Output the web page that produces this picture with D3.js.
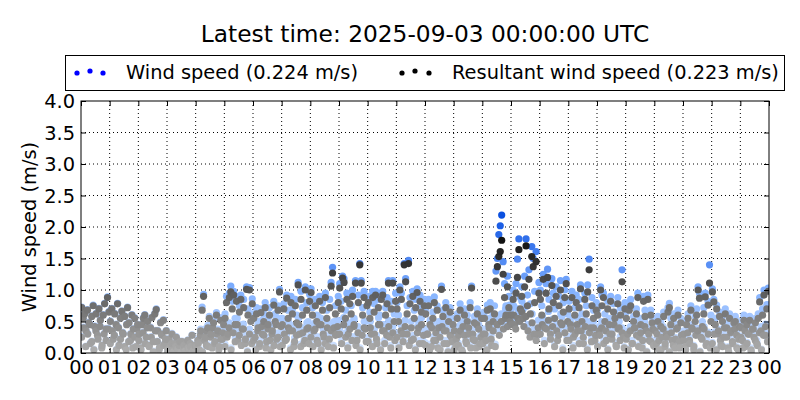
<!DOCTYPE html>
<html>
<head>
<meta charset="utf-8">
<script src="https://cdn.jsdelivr.net/npm/d3@7"></script>
<style>
  html, body { margin: 0; padding: 0; background: #fff; }
  svg { display: block; font-family: "DejaVu Sans", sans-serif; }
</style>
</head>
<body>
<svg id="chart" width="800" height="400"></svg>
<script>
// ---- data ----
const titleText = "Latest time: 2025-09-03 00:00:00 UTC";
const seriesNames = ["Wind speed (0.224 m/s)", "Resultant wind speed (0.223 m/s)"];
const xTickLabels = ["00","01","02","03","04","05","06","07","08","09","10","11","12","13","14","15","16","17","18","19","20","21","22","23","00"];
const yTicks = [0.0,0.5,1.0,1.5,2.0,2.5,3.0,3.5,4.0];

// resultant wind speed, 20 samples per hour (m/s)
const resultant = [
 [0.72,0.55,0.62,0.35,0.68,0.48,0.15,0.58,0.75,0.42,0.62,0.28,0.70,0.52,0.08,0.60,0.78,0.38,0.88,0.65],
 [0.50,0.70,0.22,0.62,0.45,0.78,0.12,0.55,0.66,0.30,0.58,0.05,0.72,0.48,0.20,0.60,0.38,0.55,0.10,0.45],
 [0.30,0.08,0.45,0.55,0.60,0.25,0.50,0.12,0.40,0.56,0.18,0.62,0.69,0.35,0.05,0.48,0.28,0.52,0.15,0.35],
 [0.05,0.22,0.10,0.30,0.02,0.15,0.25,0.06,0.12,0.00,0.18,0.08,0.03,0.14,0.20,0.05,0.10,0.28,0.04,0.12],
 [0.10,0.20,0.05,0.35,0.68,0.90,0.25,0.12,0.40,0.55,0.30,0.08,0.48,0.18,0.60,0.35,0.10,0.52,0.22,0.45],
 [0.55,0.80,0.30,0.88,0.97,0.70,0.92,0.45,0.82,0.20,0.65,0.85,0.38,0.72,0.15,1.01,0.60,1.00,0.50,0.78],
 [0.55,0.25,0.62,0.40,0.10,0.64,0.30,0.50,0.72,0.18,0.45,0.60,0.05,0.35,0.76,0.50,0.22,0.68,0.97,0.42],
 [0.45,0.70,0.20,0.87,0.55,0.35,0.80,0.62,0.10,0.75,0.48,1.08,0.30,0.85,0.60,0.15,1.00,0.68,0.40,0.82],
 [0.96,0.60,0.35,0.75,0.50,0.15,0.82,0.45,0.68,0.25,0.88,0.55,0.10,0.72,1.06,1.27,0.40,0.62,0.30,0.80],
 [1.03,0.70,1.19,1.12,0.55,0.85,0.30,0.78,0.62,0.90,0.45,1.11,0.20,0.80,1.40,1.11,0.60,0.88,0.38,0.75],
 [0.80,0.55,0.30,0.88,0.65,0.92,0.15,0.72,0.45,0.85,0.92,0.35,0.60,0.78,1.11,0.25,0.70,1.11,0.50,0.82],
 [0.70,0.50,1.00,0.85,0.30,1.40,1.13,0.62,1.42,0.78,0.20,0.90,0.55,0.72,0.96,0.40,0.82,0.65,0.15,0.75],
 [0.62,0.30,0.75,0.45,0.10,0.55,0.80,0.20,0.68,0.40,0.05,1.01,0.58,0.35,0.72,0.15,0.50,0.65,0.25,0.45],
 [0.35,0.10,0.55,0.28,0.68,0.05,0.42,0.60,0.18,0.50,0.30,0.72,1.03,0.22,0.48,0.08,0.62,0.38,0.15,0.55],
 [0.30,0.55,0.20,0.68,0.45,0.70,0.12,0.50,0.62,1.14,1.37,1.53,1.61,1.79,1.25,0.88,0.60,1.05,0.72,0.50],
 [0.60,0.85,0.45,0.95,1.20,1.64,0.70,0.90,0.55,1.05,1.70,0.75,1.17,0.62,1.53,1.37,0.80,1.45,0.30,0.95],
 [0.85,0.60,1.17,0.40,0.95,1.20,0.70,0.30,1.07,0.80,0.55,0.90,0.20,0.75,1.00,0.45,0.65,0.88,1.10,0.50],
 [0.70,0.45,0.88,0.25,0.60,0.80,0.35,0.72,1.02,0.50,0.15,0.85,0.62,0.97,1.32,0.40,0.75,0.55,0.20,0.68],
 [0.60,0.35,1.00,0.75,0.88,0.50,0.20,0.70,0.45,0.82,0.30,0.65,0.55,0.10,0.78,0.40,0.60,1.13,0.25,0.70],
 [0.55,0.30,0.68,0.75,0.15,0.50,0.40,0.62,0.88,0.25,0.45,0.08,0.82,0.58,0.35,0.85,0.20,0.60,0.48,0.12],
 [0.35,0.15,0.50,0.05,0.42,0.25,0.58,0.10,0.30,0.65,0.72,0.45,0.20,0.55,0.08,0.38,0.60,0.18,0.48,0.28],
 [0.30,0.10,0.45,0.55,0.20,0.68,0.38,0.05,0.50,0.60,1.00,0.87,0.25,0.42,0.62,0.89,0.15,0.76,1.11,0.50],
 [0.97,0.81,0.45,0.70,0.30,0.58,0.12,0.50,0.25,0.62,0.40,0.08,0.55,0.35,0.18,0.48,0.50,0.28,0.05,0.42],
 [0.40,0.20,0.52,0.10,0.45,0.30,0.52,0.05,0.38,0.25,0.48,0.15,0.55,0.81,0.35,0.60,0.92,0.28,0.70,0.98]
];

// additional resultant samples (14 per hour, mostly the calm lower band)
const resultantExtra = [
 [0.25,0.40,0.10,0.30,0.45,0.18,0.05,0.35,0.22,0.42,0.12,0.30,0.20,0.38],
 [0.15,0.35,0.28,0.05,0.40,0.22,0.32,0.10,0.45,0.18,0.30,0.08,0.25,0.38],
 [0.20,0.05,0.32,0.15,0.40,0.10,0.25,0.02,0.35,0.18,0.08,0.30,0.12,0.22],
 [0.00,0.08,0.15,0.02,0.10,0.05,0.18,0.00,0.12,0.03,0.08,0.15,0.01,0.06],
 [0.05,0.15,0.28,0.02,0.20,0.35,0.10,0.25,0.40,0.15,0.30,0.05,0.22,0.32],
 [0.10,0.25,0.40,0.05,0.32,0.18,0.45,0.28,0.12,0.38,0.22,0.02,0.30,0.15],
 [0.20,0.05,0.35,0.15,0.42,0.28,0.08,0.38,0.20,0.30,0.12,0.45,0.25,0.10],
 [0.12,0.30,0.22,0.40,0.05,0.35,0.18,0.28,0.45,0.10,0.32,0.20,0.38,0.15],
 [0.25,0.10,0.38,0.20,0.45,0.05,0.30,0.15,0.40,0.22,0.35,0.08,0.28,0.42],
 [0.30,0.15,0.45,0.25,0.08,0.38,0.20,0.42,0.12,0.32,0.05,0.28,0.40,0.18],
 [0.18,0.40,0.10,0.30,0.22,0.45,0.05,0.35,0.15,0.28,0.42,0.08,0.32,0.20],
 [0.25,0.08,0.35,0.18,0.42,0.30,0.12,0.40,0.22,0.05,0.32,0.15,0.45,0.28],
 [0.12,0.30,0.05,0.40,0.20,0.32,0.08,0.25,0.42,0.15,0.35,0.02,0.28,0.18],
 [0.05,0.22,0.12,0.35,0.02,0.28,0.15,0.40,0.08,0.30,0.20,0.45,0.10,0.25],
 [0.15,0.30,0.05,0.40,0.22,0.35,0.10,0.45,0.28,0.50,0.38,0.55,0.42,0.60],
 [0.45,0.60,0.38,0.55,0.50,0.65,0.42,0.58,0.35,0.25,0.48,0.30,0.20,0.40],
 [0.30,0.45,0.15,0.38,0.52,0.22,0.42,0.10,0.35,0.28,0.48,0.05,0.32,0.20],
 [0.20,0.38,0.08,0.30,0.45,0.15,0.35,0.25,0.42,0.05,0.32,0.18,0.40,0.28],
 [0.10,0.28,0.40,0.15,0.35,0.05,0.30,0.22,0.45,0.12,0.38,0.20,0.32,0.08],
 [0.22,0.05,0.35,0.15,0.40,0.28,0.10,0.32,0.20,0.42,0.02,0.30,0.18,0.38],
 [0.10,0.30,0.20,0.05,0.38,0.15,0.25,0.02,0.32,0.12,0.22,0.40,0.08,0.28],
 [0.20,0.05,0.32,0.15,0.40,0.10,0.28,0.35,0.02,0.22,0.38,0.12,0.30,0.08],
 [0.15,0.30,0.05,0.35,0.20,0.10,0.40,0.25,0.02,0.32,0.15,0.38,0.08,0.22],
 [0.25,0.08,0.35,0.15,0.30,0.02,0.38,0.20,0.12,0.32,0.05,0.28,0.42,0.18]
];

// wind speed, 20 samples per hour (m/s)
const windSpeed = [
 [0.73,0.56,0.63,0.36,0.69,0.49,0.16,0.59,0.76,0.43,0.63,0.29,0.71,0.53,0.09,0.61,0.79,0.39,0.89,0.66],
 [0.51,0.71,0.23,0.63,0.46,0.79,0.13,0.56,0.67,0.31,0.59,0.06,0.73,0.49,0.21,0.61,0.39,0.56,0.11,0.46],
 [0.31,0.09,0.46,0.56,0.61,0.26,0.51,0.13,0.41,0.57,0.19,0.63,0.70,0.36,0.06,0.49,0.29,0.53,0.16,0.36],
 [0.06,0.23,0.11,0.31,0.03,0.16,0.26,0.07,0.13,0.01,0.19,0.09,0.04,0.15,0.21,0.06,0.11,0.29,0.05,0.13],
 [0.12,0.22,0.07,0.38,0.73,0.93,0.28,0.14,0.44,0.58,0.33,0.10,0.52,0.20,0.64,0.38,0.12,0.56,0.25,0.49],
 [0.62,0.90,0.35,0.95,1.06,0.82,0.98,0.55,0.90,0.28,0.75,0.92,0.45,0.85,0.20,1.05,0.70,1.04,0.62,0.86],
 [0.62,0.30,0.72,0.50,0.14,0.70,0.38,0.62,0.80,0.22,0.55,0.72,0.08,0.45,0.82,0.62,0.30,0.75,1.01,0.55],
 [0.55,0.78,0.25,0.92,0.68,0.45,0.90,0.70,0.15,0.85,0.60,1.12,0.38,0.98,0.72,0.20,1.05,0.80,0.50,0.93],
 [1.02,0.72,0.45,0.85,0.60,0.20,0.90,0.55,0.80,0.30,0.95,0.68,0.15,0.85,1.12,1.36,0.50,0.75,0.38,0.90],
 [1.10,0.82,1.22,1.18,0.68,0.95,0.40,0.90,0.75,1.00,0.55,1.15,0.28,0.92,1.42,1.15,0.72,0.98,0.50,0.88],
 [0.90,0.65,0.40,0.98,0.78,0.98,0.20,0.85,0.60,0.95,0.98,0.45,0.72,0.88,1.15,0.32,0.82,1.15,0.62,0.95],
 [0.80,0.60,1.05,0.95,0.38,1.42,1.18,0.75,1.47,0.88,0.25,0.98,0.68,0.85,1.02,0.50,0.92,0.75,0.20,0.85],
 [0.70,0.38,0.85,0.52,0.15,0.65,0.89,0.25,0.75,0.50,0.08,1.06,0.68,0.42,0.80,0.20,0.60,0.72,0.30,0.55],
 [0.42,0.15,0.62,0.35,0.78,0.08,0.50,0.70,0.22,0.60,0.38,0.80,1.06,0.28,0.58,0.12,0.70,0.45,0.20,0.62],
 [0.38,0.65,0.25,0.76,0.55,0.80,0.18,0.62,0.75,1.30,1.50,1.88,2.02,2.19,1.45,1.10,0.75,1.22,0.90,0.65],
 [0.72,1.00,0.58,1.10,1.49,1.81,0.88,1.05,0.70,1.22,1.81,0.92,1.32,0.78,1.69,1.50,0.98,1.61,0.40,1.12],
 [1.00,0.75,1.25,0.52,1.10,1.33,0.85,0.40,1.18,0.95,0.70,1.05,0.28,0.90,1.15,0.58,0.80,1.00,1.17,0.62],
 [0.82,0.55,0.98,0.30,0.72,0.92,0.42,0.85,1.08,0.62,0.20,0.95,0.75,1.08,1.49,0.50,0.88,0.68,0.25,0.80],
 [0.70,0.42,1.05,0.92,0.95,0.62,0.25,0.82,0.55,0.90,0.38,0.78,0.65,0.15,0.88,0.50,0.72,1.32,0.30,0.80],
 [0.65,0.35,0.78,0.85,0.20,0.58,0.50,0.70,0.95,0.30,0.55,0.12,0.90,0.68,0.42,0.92,0.25,0.68,0.55,0.15],
 [0.40,0.20,0.58,0.08,0.50,0.30,0.65,0.12,0.35,0.72,0.79,0.55,0.25,0.62,0.10,0.45,0.68,0.22,0.55,0.32],
 [0.35,0.15,0.52,0.62,0.25,0.75,0.45,0.08,0.58,0.70,1.05,0.95,0.30,0.50,0.72,0.95,0.20,0.82,1.40,0.60],
 [1.02,0.85,0.55,0.76,0.35,0.65,0.15,0.58,0.30,0.70,0.48,0.10,0.62,0.42,0.22,0.55,0.58,0.32,0.08,0.50],
 [0.45,0.25,0.60,0.12,0.50,0.35,0.58,0.08,0.45,0.30,0.55,0.20,0.62,0.88,0.42,0.70,1.00,0.32,0.77,1.03]
];

// additional wind speed samples (14 per hour)
const windExtra = [
 [0.26,0.41,0.11,0.31,0.46,0.19,0.06,0.36,0.23,0.43,0.13,0.31,0.21,0.39],
 [0.16,0.36,0.29,0.06,0.41,0.23,0.33,0.11,0.46,0.19,0.31,0.09,0.26,0.39],
 [0.21,0.06,0.33,0.16,0.41,0.11,0.26,0.03,0.36,0.19,0.09,0.31,0.13,0.23],
 [0.01,0.09,0.16,0.03,0.11,0.06,0.19,0.01,0.13,0.04,0.09,0.16,0.02,0.07],
 [0.07,0.18,0.32,0.04,0.24,0.40,0.13,0.30,0.46,0.18,0.35,0.07,0.26,0.38],
 [0.14,0.32,0.48,0.08,0.40,0.24,0.55,0.35,0.16,0.46,0.28,0.04,0.38,0.20],
 [0.26,0.08,0.44,0.20,0.52,0.36,0.12,0.47,0.26,0.38,0.16,0.56,0.32,0.14],
 [0.16,0.38,0.28,0.50,0.08,0.44,0.24,0.36,0.55,0.14,0.40,0.26,0.48,0.20],
 [0.32,0.14,0.48,0.26,0.56,0.08,0.38,0.20,0.50,0.28,0.45,0.12,0.36,0.52],
 [0.38,0.20,0.56,0.32,0.12,0.48,0.26,0.52,0.16,0.42,0.08,0.36,0.50,0.24],
 [0.24,0.50,0.14,0.38,0.28,0.56,0.08,0.45,0.20,0.36,0.52,0.12,0.42,0.26],
 [0.32,0.12,0.45,0.24,0.52,0.38,0.16,0.50,0.28,0.08,0.42,0.20,0.56,0.36],
 [0.16,0.38,0.08,0.50,0.26,0.42,0.12,0.32,0.52,0.20,0.45,0.04,0.36,0.24],
 [0.08,0.28,0.16,0.45,0.04,0.36,0.20,0.50,0.12,0.38,0.26,0.56,0.14,0.32],
 [0.20,0.38,0.08,0.50,0.28,0.45,0.14,0.56,0.36,0.62,0.48,0.70,0.55,0.76],
 [0.58,0.75,0.48,0.70,0.64,0.82,0.55,0.74,0.45,0.32,0.62,0.38,0.26,0.52],
 [0.38,0.58,0.20,0.48,0.66,0.28,0.54,0.14,0.45,0.36,0.62,0.08,0.42,0.26],
 [0.26,0.48,0.12,0.38,0.56,0.20,0.45,0.32,0.52,0.08,0.40,0.24,0.50,0.36],
 [0.13,0.35,0.50,0.20,0.44,0.07,0.38,0.28,0.55,0.16,0.48,0.26,0.40,0.10],
 [0.26,0.07,0.42,0.18,0.48,0.34,0.13,0.39,0.24,0.50,0.03,0.36,0.22,0.45],
 [0.12,0.33,0.23,0.06,0.42,0.17,0.28,0.03,0.36,0.14,0.25,0.44,0.10,0.31],
 [0.22,0.06,0.35,0.17,0.44,0.12,0.31,0.39,0.03,0.25,0.42,0.14,0.33,0.10],
 [0.17,0.33,0.06,0.38,0.22,0.12,0.44,0.28,0.03,0.35,0.17,0.42,0.10,0.25],
 [0.27,0.09,0.38,0.17,0.33,0.03,0.42,0.22,0.14,0.35,0.06,0.31,0.46,0.20]
];

// ---- build point lists (time in hours) ----
function toPoints(byHour, offset) {
  const pts = [];
  byHour.forEach((vals, h) => {
    vals.forEach((v, i) => pts.push({ t: h + (i + offset) / vals.length, v: v }));
  });
  return pts;
}
const windPts = toPoints(windSpeed, 0.5).concat(toPoints(windExtra, 0.3)).sort((a, b) => a.t - b.t);
const resPts = toPoints(resultant, 0.5).concat(toPoints(resultantExtra, 0.3)).sort((a, b) => a.t - b.t);

// ---- layout ----
const svg = d3.select("#chart");
const L = 81, R = 769, T = 101, B = 353;
const x = d3.scaleLinear().domain([0, 24]).range([L, R]);
const y = d3.scaleLinear().domain([0, 4]).range([B, T]);

const grayColor = d3.scaleLinear().domain([0, 2]).range(["#b0b0b0", "#000000"]).clamp(true);
const blueColor = d3.scaleLinear().domain([0, 1.0, 2.2]).range(["#d5e5ff", "#80b0ff", "#0a4fe0"]).clamp(true);

svg.append("defs").append("clipPath").attr("id", "plotclip")
  .append("rect").attr("x", L).attr("y", T).attr("width", R - L).attr("height", B - T);

// grid
const grid = svg.append("g");
grid.selectAll("line.gx").data(d3.range(1, 24)).enter().append("line")
  .attr("x1", d => x(d)).attr("x2", d => x(d)).attr("y1", T).attr("y2", B)
  .attr("stroke", "#000").attr("stroke-width", 1).attr("stroke-dasharray", "1,3");
grid.selectAll("line.gy").data(yTicks.slice(1, -1)).enter().append("line")
  .attr("y1", d => y(d)).attr("y2", d => y(d)).attr("x1", L).attr("x2", R)
  .attr("stroke", "#000").attr("stroke-width", 1).attr("stroke-dasharray", "1,3");

// points
const rad = 3.6;
const pg = svg.append("g").attr("clip-path", "url(#plotclip)");
pg.selectAll("circle.w").data(windPts).enter().append("circle")
  .attr("cx", d => x(d.t)).attr("cy", d => y(d.v)).attr("r", rad)
  .attr("fill", d => blueColor(d.v));
pg.selectAll("circle.r").data(resPts).enter().append("circle")
  .attr("cx", d => x(d.t)).attr("cy", d => y(d.v)).attr("r", rad)
  .attr("fill", d => grayColor(d.v));

// axes (inward ticks, all four sides)
const fs = "19.4px";
const axB = svg.append("g").attr("transform", `translate(0,${B})`)
  .call(d3.axisBottom(x).tickValues(d3.range(0, 25)).tickSizeInner(-5).tickSizeOuter(0).tickPadding(9)
    .tickFormat((d, i) => xTickLabels[i]));
const axT = svg.append("g").attr("transform", `translate(0,${T})`)
  .call(d3.axisTop(x).tickValues(d3.range(0, 25)).tickSizeInner(-5).tickSizeOuter(0).tickFormat(""));
const axL = svg.append("g").attr("transform", `translate(${L},0)`)
  .call(d3.axisLeft(y).tickValues(yTicks).tickSizeInner(-5).tickSizeOuter(0).tickPadding(8)
    .tickFormat(d3.format(".1f")));
const axR = svg.append("g").attr("transform", `translate(${R},0)`)
  .call(d3.axisRight(y).tickValues(yTicks).tickSizeInner(-5).tickSizeOuter(0).tickFormat(""));
[axB, axT, axL, axR].forEach(a => {
  a.select(".domain").remove();
  a.selectAll("line").attr("stroke", "#000");
  a.selectAll("text").attr("font-size", fs).attr("fill", "#000").attr("font-family", "DejaVu Sans");
});
axB.selectAll("text").attr("dy", "0.72em").attr("y", 7);
axL.selectAll("text").attr("dy", "0.36em").attr("x", -6);

// frame
svg.append("rect").attr("x", L).attr("y", T).attr("width", R - L).attr("height", B - T)
  .attr("fill", "none").attr("stroke", "#000").attr("stroke-width", 1);

// y label
svg.append("text").attr("transform", `translate(36,${(T + B) / 2}) rotate(-90)`)
  .attr("text-anchor", "middle").attr("font-size", fs).text("Wind speed (m/s)");

// title
svg.append("text").attr("x", (L + R) / 2).attr("y", 42).attr("text-anchor", "middle")
  .attr("font-size", "23.3px").text(titleText);

// legend
const lg = svg.append("g");
lg.append("rect").attr("x", 65.5).attr("y", 55.5).attr("width", 719).attr("height", 35)
  .attr("fill", "#fff").attr("stroke", "#000").attr("stroke-width", 1);
const legendItems = [
  { name: seriesNames[0], color: "#0000ff", dx: [77, 90, 103], tx: 126 },
  { name: seriesNames[1], color: "#000000", dx: [402, 415, 429], tx: 452 }
];
legendItems.forEach(it => {
  it.dx.forEach((px, k) => lg.append("circle").attr("cx", px).attr("cy", k === 1 ? 71 : 73).attr("r", 2.6).attr("fill", it.color));
  lg.append("text").attr("x", it.tx).attr("y", 79).attr("font-size", fs).text(it.name);
});
</script>
</body>
</html>
